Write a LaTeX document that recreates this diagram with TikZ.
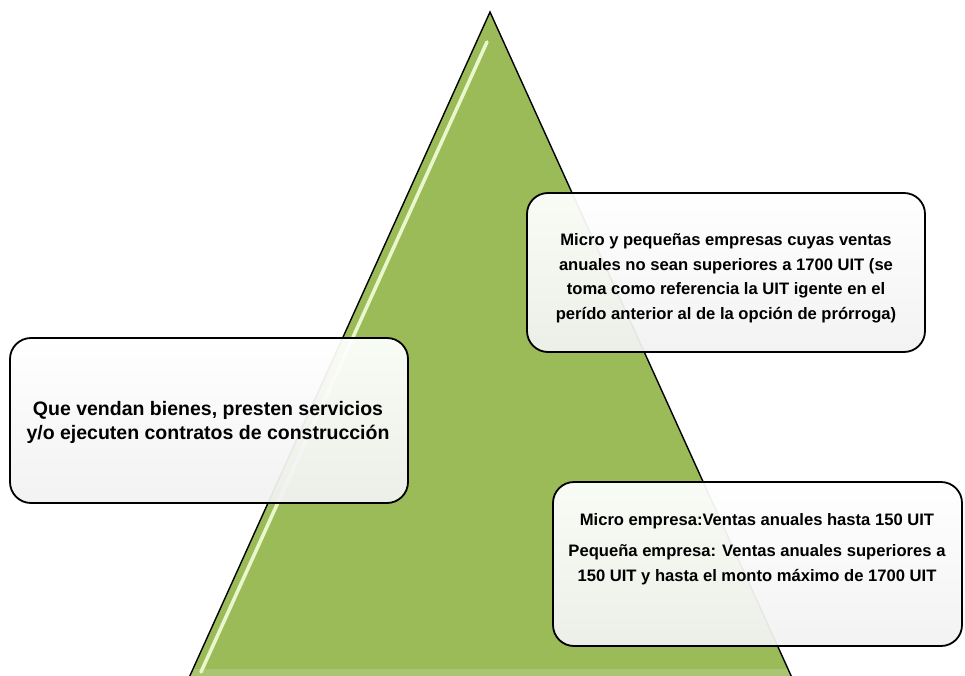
\documentclass[tikz,border=0pt]{standalone}
\usepackage{fontspec}
\setmainfont{Liberation Sans}
\definecolor{trigreen}{HTML}{9BBB59}
\definecolor{trilight}{HTML}{EAF7CC}
\begin{document}
\begin{tikzpicture}[x=1pt,y=-1pt,
  boxshape/.style={draw=black, line width=1.8pt, rounded corners=21pt,
    top color=white, bottom color=black!5, fill opacity=0.94, inner sep=0pt},
  boxtext/.style={align=center, text=black, inner sep=0pt},
  rtext/.style={boxtext, font=\fontsize{16.6}{24.5}\selectfont\bfseries},
  ltext/.style={boxtext, font=\fontsize{19.5}{24}\selectfont\bfseries}]
\useasboundingbox (0,0) rectangle (965,676);
\fill[white] (0,0) rectangle (965,676);
\begin{scope}
\clip (0,0) rectangle (965,676);
\coordinate (apex) at (490,12);
\coordinate (bl) at (188,680);
\coordinate (br) at (793,680);
\fill[trigreen] (apex) -- (br) -- (bl) -- cycle;
\fill[trigreen!85!white] (193,669) -- (788,669) -- (791,676) -- (190,676) -- cycle;
\coordinate (h1) at (487,42);
\coordinate (h2) at (201,672);
\draw[trilight, line width=3.5pt, line cap=round] (h1) -- (h2);
\draw[black, line width=1.4pt] (bl) -- (apex) -- (br);
\end{scope}
% boxes
\node[boxshape, minimum width=398pt, minimum height=159pt] (b1) at (726,272.5) {};
\node[boxshape, minimum width=398pt, minimum height=165pt] (b2) at (209,420.5) {};
\node[boxshape, minimum width=409pt, minimum height=164pt] (b3) at (757.5,564) {};
\node[rtext] (t1) at (726,278) {Micro y pequeñas empresas cuyas ventas\\anuales no sean superiores a 1700 UIT (se\\toma como referencia la UIT igente en el\\perído anterior al de la opción de prórroga)};
\node[ltext] (t2) at (208,422) {Que vendan bienes, presten servicios\\y/o ejecuten contratos de construcción};
\node[rtext] (t3) at (757,549) {Micro empresa:Ventas anuales hasta 150 UIT\\[7pt]Pequeña empresa: Ventas anuales superiores a\\150 UIT y hasta el monto máximo de 1700 UIT};
\end{tikzpicture}
\end{document}
